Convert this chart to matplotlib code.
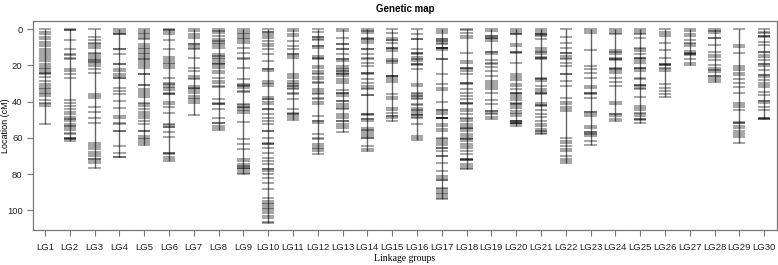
import matplotlib.pyplot as plt

plt.rcParams["font.family"] = ["Liberation Sans", "DejaVu Sans"]

# marker positions (cM) per linkage group; repeated values = stacked markers
lg1 = [0, 1.3, 2.8, 4.2, 5.5, 6.8, 7.9, 9.2, 10.7, 12, 12.9, 14.2, 15.3, 16.6, 17.5, 19, 20.3, 21.2, 22.1, 23,
       24, 24, 24.9, 26.3, 28.5, 30, 31.3, 32.2, 33.1, 34, 35, 35.9, 36.8, 39.2, 40.5, 41.4, 42.4, 52.5]
lg2 = [0, 0.5, 0.5, 6.1, 11, 13.4, 14.2, 15.7, 16.6, 21.7, 23, 24.9, 26.7, 39.2, 40.5, 42.4, 44.2, 45.5, 47, 48.4,
       49.4, 49.4, 50.7, 52.1, 53.4, 53.4, 54.3, 55.8, 57.1, 58, 59.9, 59.9, 60.8, 60.8, 61.7]
lg3 = [0, 4.2, 6.1, 7.4, 8.3, 9.2, 10.5, 12.9, 13.8, 14.7, 15.7, 17.1, 17.1, 17.9, 17.9, 19, 20.3, 22.1, 24, 35.5,
       36.8, 38.1, 42.9, 45.5, 49.2, 51.6, 62.6, 63.9, 65, 66.3, 67.6, 68.7, 70, 71.8, 71.8, 72.7, 74.1, 76.4]
lg4 = [0, 0.9, 1.8, 2.8, 2.8, 11, 11, 13.8, 19.3, 19.3, 22.1, 23, 24.9, 25.8, 26.7, 27.1, 32.2, 34, 35.9, 39.6,
       43.3, 47.9, 48.8, 51.6, 52.5, 56.2, 56.2, 64.5, 68.2, 70.5, 70.5]
lg5 = [0, 0.9, 1.8, 2.8, 3.7, 4.6, 5.5, 8.3, 9.2, 10.1, 11, 12, 12.9, 13.8, 14.7, 15.7, 16.2, 17.1, 18, 19, 20.3,
       21.2, 24.5, 24.5, 30.9, 30.9, 33.1, 34, 35, 36.2, 37.4, 40.5, 41.4, 42.4, 44.2, 45.5, 47, 47.9, 48.8, 50.7,
       52.5, 56.2, 56.2, 58.9, 59.9, 60.8, 61.7, 62.6, 63.9]
lg6 = [0, 0.6, 0.6, 1.3, 2.8, 6.1, 11, 15.3, 16.2, 17.5, 18.4, 19.3, 20.3, 21.2, 26.7, 29.5, 30, 30.8, 31.9, 32.6,
       33.7, 35, 35.9, 35.9, 40, 41.4, 42.9, 46, 52.1, 53, 53.9, 53.9, 56.5, 59.5, 68.1, 68.1, 69, 70.5, 71.8, 72.7]
lg7 = [0, 0.9, 2.4, 3.7, 4.6, 8.3, 8.3, 9.2, 10.1, 11, 15.7, 21.2, 23, 25.8, 26.7, 27.6, 31.3, 32.2, 32.2, 33.1,
       34, 35, 36.8, 37.8, 38.7, 39.6, 40.5, 47.3]
lg8 = [0, 0.9, 0.9, 1.8, 3.7, 5.5, 6.4, 6.4, 7.4, 8.3, 9.2, 10.1, 13.8, 14.7, 14.7, 15.7, 16.6, 17.5, 18.4, 19.3,
       19.3, 20.3, 21.2, 23, 23.9, 26.7, 28.5, 29.5, 31.3, 31.9, 38.7, 40.5, 41.4, 41.4, 44.2, 48.8, 51.6, 51.6,
       53.4, 54.7, 55.8]
lg9 = [0, 0.9, 1.8, 2.8, 3.7, 4.6, 5.5, 6.4, 7.4, 10.1, 12.9, 15.7, 16.6, 21.2, 27.6, 30.4, 31, 31.5, 31.5, 32.2,
       34, 34.4, 41.1, 42, 42.9, 42.9, 43.7, 44.4, 45.1, 46, 51, 60.8, 63.2, 66.3, 71.8, 72.7, 74.6, 75.5, 75.5,
       76.4, 76.4, 77.3, 78.3, 79.2, 80.1]
lg10 = [0, 1.3, 1.3, 2.4, 3.7, 5, 6.4, 7.9, 9.2, 11, 13.4, 17.5, 22.1, 22.1, 23, 28.5, 29.5, 30.4, 31.3, 37.4,
        38.7, 38.7, 40, 41.1, 44.2, 44.2, 47, 48.8, 50.6, 52.5, 56.2, 56.2, 59.9, 62.6, 63.5, 63.5, 65.4, 68.1,
        70.9, 72.7, 74.6, 77.3, 77.3, 78.3, 80.1, 82, 84.7, 88.4, 93, 94.8, 95.8, 96.7, 97.6, 98.5, 99.4, 100.4,
        101.3, 103, 104.5, 106.3, 107]
lg11 = [0, 0.9, 2.4, 3.7, 6.4, 9.2, 11, 13.8, 13.8, 14.7, 15.7, 24.9, 25.8, 26.7, 28.5, 29.5, 30.4, 31.3, 31.3,
        32.2, 33.1, 35, 35.9, 38.7, 44.2, 46, 47, 47, 47.9, 48.8, 50.3]
lg12 = [0, 1.3, 4.2, 4.2, 5.5, 6.1, 9.2, 9.2, 10.5, 14.7, 15.7, 15.7, 16.6, 20.3, 21.2, 23, 23.9, 24.9, 26.3, 27.6,
        28.9, 29.5, 33.1, 34, 35, 35.5, 37.8, 38.7, 40, 41.1, 47.9, 50.6, 50.6, 51.6, 58, 59.9, 60.8, 63.5, 64.5,
        65.4, 66.3, 67.2, 68.7]
lg13 = [0, 0.9, 4.6, 8.3, 8.3, 11, 11, 13.8, 16.6, 16.6, 17.5, 20.3, 21.2, 22.1, 23, 23, 23.9, 24.9, 24.9, 25.8,
        27.6, 28.5, 29.5, 33.7, 35, 35, 35.9, 36.8, 39.6, 39.6, 41.4, 42.4, 43.3, 44.2, 47, 47.9, 48.8, 50.6, 50.6,
        52.5, 53.4, 54.7, 56.5]
lg14 = [0, 0.9, 0.9, 1.8, 5, 5.5, 5.5, 6.4, 7.4, 11, 11, 13.8, 15.7, 16.6, 18.4, 20.3, 23.9, 23.9, 24.9, 27.6,
        29.5, 31.3, 32.2, 33.1, 36.2, 36.2, 46.6, 46.6, 47.3, 49.7, 49.7, 50.6, 54.7, 55.8, 55.8, 56.5, 57.6, 58.9,
        59.9, 59.9, 64.5, 66.3, 67.2]
lg15 = [0, 1.8, 5, 6.1, 6.1, 7.4, 10.1, 10.1, 11, 12, 16.6, 17.5, 17.5, 18.4, 25.8, 25.8, 25.8, 26.7, 28.2, 28.9,
        35.9, 37.4, 38.7, 43.3, 44.8, 46, 47.9, 47.9, 48.8, 50.6]
lg16 = [0, 2.8, 5.5, 5.5, 11, 12.9, 12.9, 13.8, 15.3, 16.6, 16.6, 17.5, 19, 19, 19.7, 22.1, 30.4, 31.3, 35, 35.9,
        36.8, 36.8, 37.8, 38.7, 41.1, 41.8, 43.3, 44.8, 44.8, 45.5, 46.6, 47.3, 47.3, 48.4, 49.2, 52.5, 58.9, 59.9,
        61.3]
lg17 = [0, 0.9, 1.8, 5.5, 5.5, 6.4, 6.4, 7.4, 8.3, 10.1, 10.1, 10.5, 10.5, 11.6, 16.6, 16.6, 24.9, 30.4, 32.2, 33.7,
        40, 44.8, 44.8, 45.5, 47, 48.8, 48.8, 49.2, 49.2, 52.5, 53.4, 55.2, 56.2, 59.9, 60.8, 61.7, 62.6, 63.9, 65.7,
        65.7, 67.2, 70, 70, 73.7, 78.3, 81, 82.3, 83.4, 83.4, 87.5, 88.4, 89.3, 90.2, 91.2, 92.1, 93, 93.9]
lg18 = [0, 0.6, 1.8, 3.7, 5, 12.9, 17.5, 18.4, 21.2, 21.2, 22.1, 23, 24.9, 29.5, 29.5, 30.4, 33.1, 35, 36.8, 38.7,
        40.5, 40.5, 41.4, 44.2, 45.1, 47, 48.8, 49.7, 50.6, 52.5, 53.4, 54.3, 54.3, 55.2, 56.2, 58, 58.9, 59.9,
        60.8, 60.8, 61.7, 63.5, 64.5, 65.7, 67.2, 69.1, 71.8, 71.8, 72.4, 72.4, 74.6, 75.5, 76.4, 77.3]
lg19 = [0, 0.9, 3.7, 3.7, 4.6, 4.6, 5.5, 6.4, 12.3, 12.3, 13.4, 17.1, 18.4, 19.3, 20.8, 23, 25.8, 28.5, 29.5, 30.8,
        31.9, 33.1, 35, 39.2, 41.1, 45.1, 45.1, 46, 47, 48.4, 49.7]
lg20 = [0, 0.9, 1.8, 2.4, 2.4, 8.3, 9.2, 12.3, 12.3, 12.9, 18.4, 24.5, 25.8, 27.1, 28.2, 30, 31.3, 33.1, 35, 35,
        35.5, 36.8, 38.1, 39.2, 40.5, 41.4, 41.4, 42.4, 43.6, 45.1, 46, 47, 47.9, 50.6, 50.6, 50.6, 51.6, 51.6,
        51.6, 52.5, 53.4]
lg21 = [0, 0.9, 1.8, 2.4, 2.4, 3.1, 3.7, 5.5, 10.1, 11.6, 12.3, 12.3, 13.4, 15.3, 15.7, 15.7, 16.6, 26.7, 27.6,
        27.6, 28.5, 31.3, 33.1, 34, 35, 35, 35.9, 40.5, 41.8, 41.8, 42.4, 44.8, 47, 48.4, 50.6, 52.5, 53.4, 55.2,
        56.2, 56.2, 57.1, 58]
lg22 = [0, 4.2, 7.4, 10.1, 12.9, 12.9, 14.7, 15.7, 16.6, 18.4, 20.3, 24.9, 24.9, 28.5, 31.3, 37.8, 40, 41.1, 42.9,
        44.2, 45.1, 59.9, 61.7, 62.6, 64.5, 66.3, 67.2, 70, 71.8, 72.7, 73.7]
lg23 = [0, 0.9, 1.8, 11.6, 20.3, 22.1, 23.9, 27.1, 31.3, 32.6, 35, 35, 35.9, 37.8, 45.5, 45.5, 46.6, 47.9, 53.4,
        54.3, 56.5, 56.5, 57.6, 57.6, 58.9, 61.7, 63.9]
lg24 = [0, 0.9, 1.8, 2.8, 11.6, 12.3, 12.3, 13.4, 15.7, 16.2, 16.2, 17.1, 21.2, 22.1, 22.1, 23, 23.9, 26.7, 28.9,
        31.3, 40, 41.1, 47, 47, 47.9, 49.7, 50.6]
lg25 = [0, 0.9, 1.8, 2.8, 4.6, 10.1, 11, 12, 13.8, 15.7, 15.7, 16.6, 17.5, 18.4, 21.2, 21.2, 22.1, 23, 26.7, 27.6,
        30.8, 30.8, 31.3, 32.2, 33.1, 37.2, 42.4, 43.3, 44.8, 46, 47, 47.9, 49.4, 49.4, 50.3, 51.6]
lg26 = [0, 1.3, 2.4, 3.7, 7.4, 11.6, 15.7, 19, 19, 19.7, 19.7, 21.2, 22.1, 23, 30.4, 32.6, 34, 35.9, 37.4]
lg27 = [0, 0.9, 2.8, 3.7, 6.1, 7.4, 8.3, 9.2, 12, 12.9, 12.9, 13.4, 13.4, 14.2, 16.6, 18.4, 19.7]
lg28 = [0, 0.8, 0.8, 2.2, 5, 5, 8.7, 12.4, 14.2, 15.1, 17, 19.7, 21.6, 22.5, 22.5, 23.4, 25.8, 25.8, 27.1, 28, 28.9]
lg29 = [0, 8.7, 10, 12.9, 20.3, 21.6, 22.5, 24, 25.2, 27.6, 29.8, 32, 35.4, 40.9, 41.8, 43.1, 44.6, 51, 51.9, 51.9,
        53.4, 54.7, 56, 57.1, 58.4, 59.7, 63]
lg30 = [0, 1.3, 2.2, 3.7, 3.7, 4.4, 6.8, 8.7, 12.4, 12.4, 14.2, 15.1, 17, 19.2, 19.2, 20.3, 22.5, 25.2, 25.2, 26.1,
        28, 29.8, 30.7, 32, 34.4, 36.2, 39.9, 39.9, 40.9, 42.7, 44.6, 49.2, 49.2, 49.7, 49.7]

groups = [lg1, lg2, lg3, lg4, lg5, lg6, lg7, lg8, lg9, lg10, lg11, lg12, lg13, lg14, lg15,
          lg16, lg17, lg18, lg19, lg20, lg21, lg22, lg23, lg24, lg25, lg26, lg27, lg28, lg29, lg30]
labels = ["LG%d" % (i + 1) for i in range(len(groups))]

fig = plt.figure(figsize=(7.78, 2.65), dpi=100)
ax = fig.add_axes([0.0424, 0.132, 0.9563, 0.789])

half = 0.25
for i, pos in enumerate(groups, start=1):
    ax.vlines(i, min(pos), max(pos), color="#666666", lw=1.0, zorder=1)
    ax.hlines(pos, i - half, i + half, color="black", lw=1.1, alpha=0.45, zorder=2)

ax.set_xlim(0.516, 30.52)
ax.set_ylim(110.9, -4.6)
ax.set_xticks(range(1, len(groups) + 1))
ax.set_xticklabels(labels)
ax.set_yticks([0, 20, 40, 60, 80, 100])

for s in ax.spines.values():
    s.set_color("#777777")
    s.set_linewidth(0.9)
ax.tick_params(axis="both", colors="#777777", labelcolor="#222222", labelsize=6.8, length=4, width=0.8)
ax.tick_params(axis="x", pad=5)

ax.set_title("Genetic map", fontsize=7, fontweight="bold", pad=6.5)
ax.set_ylabel("Location (cM)", fontsize=6.5)
ax.yaxis.set_label_coords(-0.031, 0.5)
ax.set_xlabel("Linkage groups", fontsize=7, family="Liberation Serif", labelpad=2)

fig.savefig("out.png", dpi=100)
